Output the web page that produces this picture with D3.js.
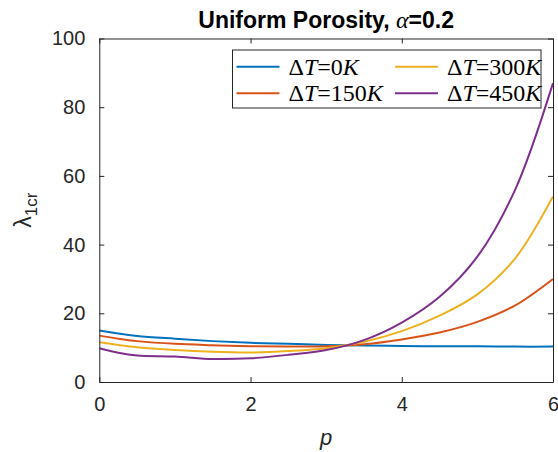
<!DOCTYPE html>
<html>
<head>
<meta charset="utf-8">
<script src="https://cdn.jsdelivr.net/npm/d3@7"></script>
<style>
  html, body { margin: 0; padding: 0; background: #fff; }
  svg { display: block; }
</style>
</head>
<body>
<svg id="chart" width="558" height="452"></svg>
<script>
// ---- data ----
const pValues = [0, 0.25, 0.5, 1, 1.5, 2, 2.5, 3, 3.5, 4, 4.5, 5, 5.5, 6];
const dT0   = [15.0, 14.1, 13.4, 12.6, 11.9, 11.4, 11.1, 10.8, 10.6, 10.5, 10.4, 10.4, 10.3, 10.3];
const dT150 = [13.5, 12.6, 11.9, 11.1, 10.7, 10.4, 10.3, 10.4, 11.0, 12.4, 14.4, 17.5, 22.3, 30.0];
const dT300 = [11.6, 10.8, 10.1, 9.3, 8.8, 8.6, 9.0, 9.8, 11.7, 14.8, 19.3, 25.5, 36.0, 54.0];
const dT450 = [9.8, 8.5, 7.7, 7.4, 6.7, 6.9, 7.9, 9.3, 12.2, 17.3, 24.8, 36.5, 56.0, 87.0];
const seriesNames = ["0", "150", "300", "450"];
const seriesColors = ["#0072BD", "#D95319", "#EDB120", "#7E2F8E"];
const xTicks = [0, 2, 4, 6];
const yTicks = [0, 20, 40, 60, 80, 100];

const allSeries = [dT0, dT150, dT300, dT450];

// ---- layout ----
const svg = d3.select("#chart");
const L = 99.3, R = 553, T = 38.5, B = 382;
const x = d3.scaleLinear().domain([0, 6]).range([L, R]);
const y = d3.scaleLinear().domain([0, 100]).range([B, T]);
const axisColor = "#262626";
const sans = "'Liberation Sans', Arial, Helvetica, sans-serif";
const serif = "'Liberation Serif', 'Times New Roman', serif";

// curves (clipped)
svg.append("defs").append("clipPath").attr("id", "clip")
  .append("rect").attr("x", L).attr("y", T).attr("width", R - L).attr("height", B - T);

const line = d3.line()
  .x((d, i) => x(pValues[i]))
  .y(d => y(d))
  .curve(d3.curveCatmullRom.alpha(0.5));

svg.append("g").attr("clip-path", "url(#clip)")
  .selectAll("path").data(allSeries).join("path")
  .attr("d", d => line(d))
  .attr("fill", "none")
  .attr("stroke", (d, i) => seriesColors[i])
  .attr("stroke-width", 2);

// axes
const tickLen = 5;
const xAxisB = d3.axisBottom(x).tickValues(xTicks).tickSizeInner(-tickLen).tickSizeOuter(0).tickPadding(15).tickFormat(d3.format("d"));
const xAxisT = d3.axisTop(x).tickValues(xTicks).tickSizeInner(-tickLen).tickSizeOuter(0).tickFormat("");
const yAxisL = d3.axisLeft(y).tickValues(yTicks).tickSizeInner(-tickLen).tickSizeOuter(0).tickPadding(14).tickFormat(d3.format("d"));
const yAxisR = d3.axisRight(y).tickValues(yTicks).tickSizeInner(-tickLen).tickSizeOuter(0).tickFormat("");

function styleAxis(g) {
  g.selectAll("path").attr("stroke", axisColor).attr("stroke-width", 1);
  g.selectAll("line").attr("stroke", axisColor).attr("stroke-width", 1);
  g.selectAll("text").attr("fill", axisColor).style("font-family", sans).style("font-size", "20px");
}
svg.append("g").attr("transform", `translate(0,${B})`).call(xAxisB).call(styleAxis);
svg.append("g").attr("transform", `translate(0,${T})`).call(xAxisT).call(styleAxis);
svg.append("g").attr("transform", `translate(${L},0)`).call(yAxisL).call(styleAxis);
svg.append("g").attr("transform", `translate(${R},0)`).call(yAxisR).call(styleAxis);

// title
const title = svg.append("text")
  .attr("x", (L + R) / 2).attr("y", 28)
  .attr("text-anchor", "middle")
  .attr("fill", "#000")
  .style("font-family", sans).style("font-size", "23px").style("font-weight", "bold");
title.append("tspan").text("Uniform Porosity, ");
title.append("tspan").style("font-family", serif).style("font-style", "italic").style("font-weight", "normal").style("font-size", "24px").text("α");
title.append("tspan").text("=0.2");

// x label
svg.append("text")
  .attr("x", (L + R) / 2).attr("y", 445)
  .attr("text-anchor", "middle")
  .attr("fill", axisColor)
  .style("font-family", sans).style("font-size", "22px").style("font-style", "italic")
  .text("p");

// y label
const yl = svg.append("text")
  .attr("transform", `translate(31,${(T + B) / 2}) rotate(-90)`)
  .attr("text-anchor", "middle")
  .attr("fill", axisColor)
  .style("font-family", sans).style("font-size", "23px");
yl.append("tspan").text("λ");
yl.append("tspan").attr("dy", 6).style("font-size", "17px").text("1cr");

// legend
const lg = svg.append("g");
const lgX = 232.5, lgY = 50, lgW = 308.5, lgH = 58;
lg.append("rect").attr("x", lgX).attr("y", lgY).attr("width", lgW).attr("height", lgH)
  .attr("fill", "#fff").attr("stroke", axisColor).attr("stroke-width", 1);
const colX = [236.5, 395];
const rowY = [66.7, 93.3];
seriesNames.forEach((name, i) => {
  const col = Math.floor(i / 2), row = i % 2;
  const x0 = colX[col], yy = rowY[row];
  lg.append("line").attr("x1", x0).attr("x2", x0 + 43).attr("y1", yy).attr("y2", yy)
    .attr("stroke", seriesColors[i]).attr("stroke-width", 2);
  const t = lg.append("text").attr("x", x0 + 52).attr("y", yy + 8)
    .attr("fill", "#000").style("font-family", serif).style("font-size", "24px");
  t.append("tspan").text("Δ");
  t.append("tspan").style("font-style", "italic").text("T");
  t.append("tspan").text("=" + name);
  t.append("tspan").style("font-style", "italic").text("K");
});
</script>
</body>
</html>
